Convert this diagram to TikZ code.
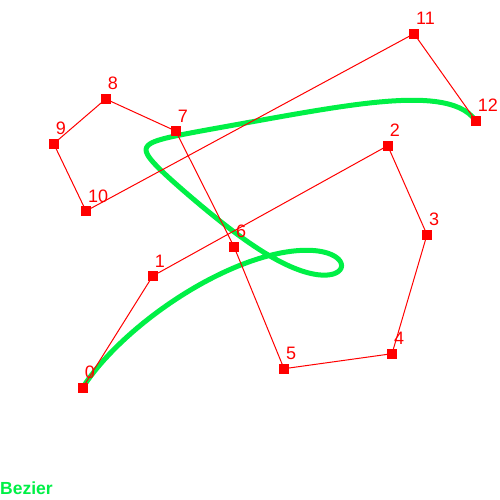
\documentclass[tikz,border=0pt]{standalone}
\usepackage{fontspec}
\setmainfont{Liberation Sans}
\definecolor{ptred}{RGB}{255,0,0}
\definecolor{curvegreen}{RGB}{0,240,70}
\newcommand\bzx[1]{\fpeval{(1-(#1))^12*82.7+12*(#1)*(1-(#1))^11*152.7+66*(#1)^2*(1-(#1))^10*387.7+220*(#1)^3*(1-(#1))^9*427+495*(#1)^4*(1-(#1))^8*392+792*(#1)^5*(1-(#1))^7*284+924*(#1)^6*(1-(#1))^6*234+792*(#1)^7*(1-(#1))^5*175.7+495*(#1)^8*(1-(#1))^4*105.7+220*(#1)^9*(1-(#1))^3*53.7+66*(#1)^10*(1-(#1))^2*86+12*(#1)^11*(1-(#1))*414+(#1)^12*475.7}}
\newcommand\bzy[1]{\fpeval{(1-(#1))^12*387.7+12*(#1)*(1-(#1))^11*276+66*(#1)^2*(1-(#1))^10*145.7+220*(#1)^3*(1-(#1))^9*234.7+495*(#1)^4*(1-(#1))^8*353.7+792*(#1)^5*(1-(#1))^7*368.7+924*(#1)^6*(1-(#1))^6*246.7+792*(#1)^7*(1-(#1))^5*131+495*(#1)^8*(1-(#1))^4*99+220*(#1)^9*(1-(#1))^3*143.7+66*(#1)^10*(1-(#1))^2*211+12*(#1)^11*(1-(#1))*33.7+(#1)^12*120.7}}
\tikzset{
  ctrl/.style={fill=ptred, draw=none, minimum size=10pt, inner sep=0pt, outer sep=0pt, rectangle},
  polyl/.style={draw=ptred, line width=1pt},
  bezc/.style={draw=curvegreen, line width=5pt, line join=round, line cap=round},
  lbl/.style={text=ptred, font=\fontsize{18}{18}\selectfont, inner sep=0pt, anchor=base west},
  ttl/.style={text=curvegreen, font=\fontsize{17.5}{17.5}\selectfont\bfseries, inner sep=0pt, anchor=base west}
}
\begin{document}
\begin{tikzpicture}[x=1pt,y=-1pt]
\useasboundingbox (0,0) rectangle (500,500);
% control points
\foreach \n/\px/\py in {0/82.7/387.7,1/152.7/276,2/387.7/145.7,3/427/234.7,4/392/353.7,5/284/368.7,6/234/246.7,7/175.7/131,8/105.7/99,9/53.7/143.7,10/86/211,11/414/33.7,12/475.7/120.7}{
  \coordinate (c\n) at (\px,\py);
}
% bezier curve (degree 12)
\gdef\curvepts{}
\foreach \i in {0,...,240}{\xdef\curvepts{\curvepts (\bzx{\i/240},\bzy{\i/240})}}
\edef\drawcurve{\noexpand\draw[bezc] plot coordinates {\curvepts};}
\drawcurve
% control polygon
\draw[polyl] (c0) -- (c1) -- (c2) -- (c3) -- (c4) -- (c5) -- (c6) -- (c7) -- (c8) -- (c9) -- (c10) -- (c11) -- (c12);
% squares and labels
\foreach \n in {0,...,12}{
  \node[ctrl] (p\n) at (c\n) {};
  \node[lbl] (l\n) at ([xshift=2pt,yshift=9pt]c\n) {\n};
}
\node[ttl] (title) at (0,494) {Bezier};
\end{tikzpicture}
\end{document}
